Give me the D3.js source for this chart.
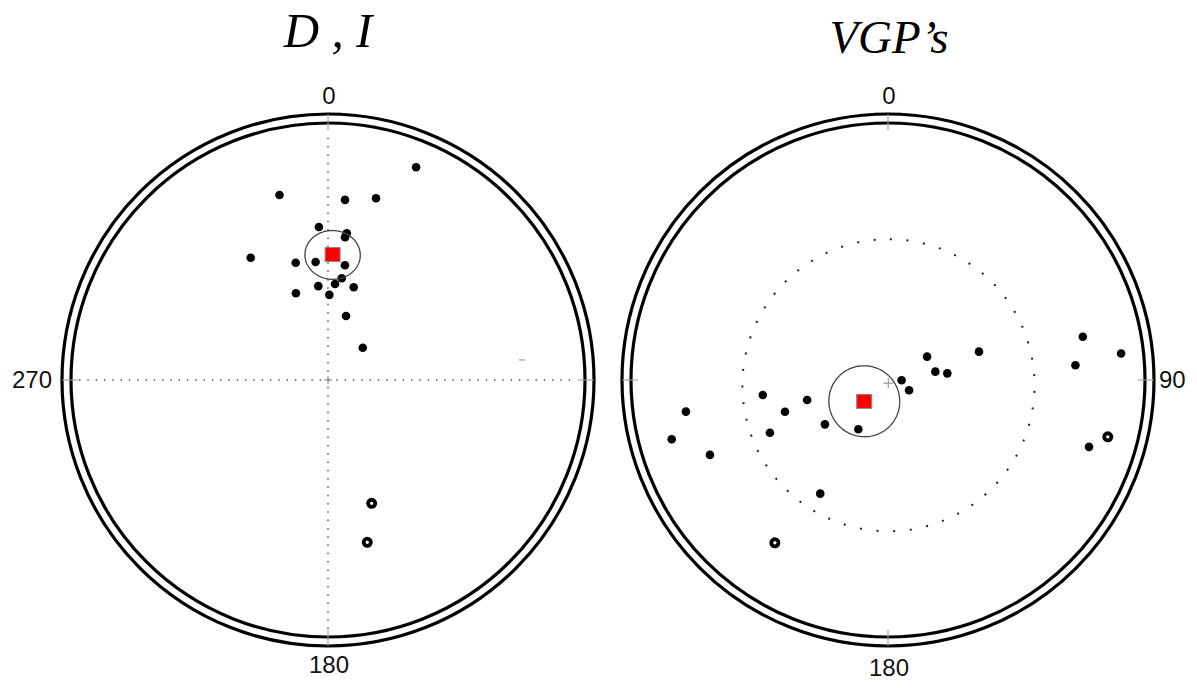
<!DOCTYPE html>
<html>
<head>
<meta charset="utf-8">
<script src="https://cdn.jsdelivr.net/npm/d3@7"></script>
<style>
  html, body { margin: 0; padding: 0; background: #fff; }
  svg { display: block; }
</style>
</head>
<body>
<svg id="chart" width="1197" height="688"></svg>
<script>
// Site directions (declination, inclination); negative inclination = upper hemisphere
const dirDec = [22.5, 345.3, 5.4, 14.8, 356.6, 7.3, 6.8, 327.7, 344.6, 354.0, 8.4,
                7.7, 354.1, 4.2, 15.5, 339.7, 0.9, 15.7, 47.1, 160.5, 166.4];
const dirInc = [11.4, 26.5, 30.3, 27.7, 40.1, 42.0, 43.4, 43.1, 50.9, 51.9, 52.8,
                57.2, 59.9, 59.3, 59.3, 60.5, 62.9, 68.9, 75.0, -47.8, -35.3];
const dirMean = [2.1, 49.6];
const dirA95 = 8.2;
const dirStray = [84.1, 25.1];

// Virtual geomagnetic poles (longitude, latitude); negative latitude = southern
const vgpLon = [261.1, 254.7, 247.2, 263.2, 252.9, 245.9, 256.1, 234.9, 211.1, 210.8,
                91.3, 116.1, 59.1, 80.0, 83.6, 72.7, 77.5, 85.5, 83.5, 108.4, 104.5, 214.8];
const vgpLat = [21.5, 13.8, 25.8, 49.4, 55.5, 48.3, 63.5, 65.5, 71.8, 47.3,
                85.7, 82.6, 75.6, 74.8, 71.1, 59.6, 23.4, 27.7, 9.6, 18.7, -12.7, -23.9];
const vgpMean = [228.1, 79.9];
const vgpA95 = 11.2;
const vgpRef = [175, 89.0];
const vgpCut = [175, 88.2];
const vgpCutAngle = 47.4;

const dirTicks = ['0', '180', '270'];
const vgpTicks = ['0', '90', '180'];
const tickAngles = { '0': 0, '90': 90, '180': 180, '270': 270 };

const svg = d3.select('#chart');
const rad = Math.PI / 180;
const R = 257;          // primitive circle
const R2 = 266;         // outer ring

// equal-area radius: r = R * sqrt(1 - sin|dip|)
const rScale = d3.scaleSqrt().domain([0, 1]).range([0, R]);

function project(az, dip) {
  const r = rScale(1 - Math.sin(Math.abs(dip) * rad));
  return [r * Math.sin(az * rad), -r * Math.cos(az * rad)];
}

function smallCircle(az, dip, alpha) {
  const a = az * rad, d = dip * rad;
  const m = [Math.cos(d) * Math.cos(a), Math.cos(d) * Math.sin(a), Math.sin(d)];
  const u = [-Math.sin(d) * Math.cos(a), -Math.sin(d) * Math.sin(a), Math.cos(d)];
  const v = [-Math.sin(a), Math.cos(a), 0];
  const ca = Math.cos(alpha * rad), sa = Math.sin(alpha * rad);
  return d3.range(0, 360, 2).map(phi => {
    const p = phi * rad;
    const x = m.map((mi, i) => ca * mi + sa * (Math.cos(p) * u[i] + Math.sin(p) * v[i]));
    const az2 = Math.atan2(x[1], x[0]) / rad;
    const dip2 = Math.asin(Math.max(-1, Math.min(1, x[2]))) / rad;
    return project(az2, dip2);
  });
}

const closedLine = d3.line().curve(d3.curveLinearClosed);

function drawNet(cx, cy, opts) {
  const g = svg.append('g').attr('transform', `translate(${cx},${cy})`);

  // double ring
  [R, R2].forEach(r => {
    g.append('circle')
      .attr('r', r)
      .attr('fill', 'none')
      .attr('stroke', '#000')
      .attr('stroke-width', 3.2);
  });

  // cardinal ticks across the ring
  g.append('g')
    .selectAll('line')
    .data([0, 90, 180, 270])
    .join('line')
    .attr('x1', a => 250 * Math.sin(a * rad))
    .attr('y1', a => -250 * Math.cos(a * rad))
    .attr('x2', a => R2 * Math.sin(a * rad))
    .attr('y2', a => -R2 * Math.cos(a * rad))
    .attr('stroke', '#999')
    .attr('stroke-width', 1);

  // tick labels
  g.append('g')
    .selectAll('text')
    .data(opts.ticks)
    .join('text')
    .text(d => d)
    .attr('x', d => {
      const a = tickAngles[d];
      if (a === 90) return 271;
      if (a === 270) return -276;
      return 1;
    })
    .attr('y', d => {
      const a = tickAngles[d];
      if (a === 0) return -276;
      if (a === 180) return 293 + opts.bottomShift;
      return 8;
    })
    .attr('text-anchor', d => {
      const a = tickAngles[d];
      return a === 90 ? 'start' : a === 270 ? 'end' : 'middle';
    })
    .attr('font-family', '"Liberation Sans", Arial, sans-serif')
    .attr('font-size', 24)
    .attr('fill', '#111');

  // title
  svg.append('text')
    .text(opts.title)
    .attr('x', cx + opts.titleDx)
    .attr('y', opts.titleY)
    .attr('text-anchor', 'middle')
    .attr('font-family', '"Liberation Serif", "Times New Roman", serif')
    .attr('font-style', 'italic')
    .attr('font-size', opts.titleSize)
    .attr('fill', '#000');

  return g;
}

function drawPoints(g, az, dip) {
  const pts = az.map((a, i) => ({ p: project(a, dip[i]), up: dip[i] < 0 }));
  g.append('g')
    .selectAll('circle')
    .data(pts)
    .join('circle')
    .attr('cx', d => d.p[0])
    .attr('cy', d => d.p[1])
    .attr('r', d => d.up ? 3.6 : 4.3)
    .attr('fill', d => d.up ? '#fff' : '#000')
    .attr('stroke', d => d.up ? '#000' : 'none')
    .attr('stroke-width', 3.8);
}

function drawMean(g, mean, alpha) {
  g.append('path')
    .attr('d', closedLine(smallCircle(mean[0], mean[1], alpha)))
    .attr('fill', 'none')
    .attr('stroke', '#444')
    .attr('stroke-width', 1.3);
  const p = project(mean[0], mean[1]);
  g.append('rect')
    .attr('x', p[0] - 7.5)
    .attr('y', p[1] - 7)
    .attr('width', 15)
    .attr('height', 14)
    .attr('fill', '#ff0000')
    .attr('stroke', '#888')
    .attr('stroke-width', 1);
}

function drawCross(g, p, size) {
  g.append('path')
    .attr('d', `M${p[0] - size},${p[1]}H${p[0] + size}M${p[0]},${p[1] - size}V${p[1] + size}`)
    .attr('stroke', '#888')
    .attr('stroke-width', 1)
    .attr('fill', 'none');
}

// ---- Left: D, I ----
const left = drawNet(328, 380, { ticks: dirTicks, title: 'D , I', titleDx: 0, titleY: 47, titleSize: 49, bottomShift: 0 });

// dotted N-S / E-W axes
left.append('g')
  .selectAll('line')
  .data([0, 90])
  .join('line')
  .attr('x1', a => -249 * Math.sin(a * rad))
  .attr('y1', a => 249 * Math.cos(a * rad))
  .attr('x2', a => 249 * Math.sin(a * rad))
  .attr('y2', a => -249 * Math.cos(a * rad))
  .attr('stroke', '#555')
  .attr('stroke-width', 1.5)
  .attr('stroke-dasharray', '1.5 6.8');

drawCross(left, [0, 0], 4);
const sp = project(dirStray[0], dirStray[1]);
left.append('line')
  .attr('x1', sp[0] - 3).attr('x2', sp[0] + 3)
  .attr('y1', sp[1]).attr('y2', sp[1])
  .attr('stroke', '#999').attr('stroke-width', 1.2);

drawPoints(left, dirDec, dirInc);
drawMean(left, dirMean, dirA95);

// ---- Right: VGPs ----
const right = drawNet(888, 380, { ticks: vgpTicks, title: 'VGP\u2019s', titleDx: 1, titleY: 53, titleSize: 47, bottomShift: 3 });

right.append('path')
  .attr('d', closedLine(smallCircle(vgpCut[0], vgpCut[1], vgpCutAngle)))
  .attr('fill', 'none')
  .attr('stroke', '#222')
  .attr('stroke-width', 2)
  .attr('stroke-dasharray', '2 14.7');

drawCross(right, project(vgpRef[0], vgpRef[1]), 5);
drawPoints(right, vgpLon, vgpLat);
drawMean(right, vgpMean, vgpA95);
</script>
</body>
</html>
